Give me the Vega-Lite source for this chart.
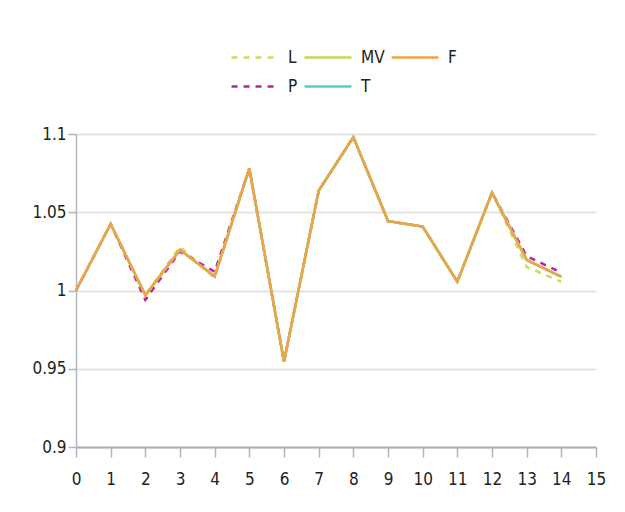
{
  "$schema": "https://vega.github.io/schema/vega-lite/v6.json",
  "width": 520,
  "height": 313,
  "autosize": "none",
  "padding": {"left": 76, "top": 134, "right": 29, "bottom": 65},
  "background": "white",
  "config": {
    "view": {"stroke": null},
    "font": "DejaVu Sans Condensed, Liberation Sans, sans-serif"
  },
  "data": {
    "values": [
      {"s": "L", "x": 0, "v": 1.0}, {"s": "L", "x": 1, "v": 1.0425}, {"s": "L", "x": 2, "v": 0.997}, {"s": "L", "x": 3, "v": 1.028}, {"s": "L", "x": 4, "v": 1.008}, {"s": "L", "x": 5, "v": 1.078}, {"s": "L", "x": 6, "v": 0.9545}, {"s": "L", "x": 7, "v": 1.0638}, {"s": "L", "x": 8, "v": 1.098}, {"s": "L", "x": 9, "v": 1.0444}, {"s": "L", "x": 10, "v": 1.0408}, {"s": "L", "x": 11, "v": 1.0056}, {"s": "L", "x": 12, "v": 1.0625}, {"s": "L", "x": 13, "v": 1.015}, {"s": "L", "x": 14, "v": 1.0056},
      {"s": "P", "x": 0, "v": 1.0}, {"s": "P", "x": 1, "v": 1.0425}, {"s": "P", "x": 2, "v": 0.994}, {"s": "P", "x": 3, "v": 1.025}, {"s": "P", "x": 4, "v": 1.012}, {"s": "P", "x": 5, "v": 1.078}, {"s": "P", "x": 6, "v": 0.9545}, {"s": "P", "x": 7, "v": 1.0638}, {"s": "P", "x": 8, "v": 1.098}, {"s": "P", "x": 9, "v": 1.0444}, {"s": "P", "x": 10, "v": 1.0408}, {"s": "P", "x": 11, "v": 1.0056}, {"s": "P", "x": 12, "v": 1.0625}, {"s": "P", "x": 13, "v": 1.022}, {"s": "P", "x": 14, "v": 1.0114},
      {"s": "MV", "x": 0, "v": 1.0}, {"s": "MV", "x": 1, "v": 1.0425}, {"s": "MV", "x": 2, "v": 0.997}, {"s": "MV", "x": 3, "v": 1.026}, {"s": "MV", "x": 4, "v": 1.009}, {"s": "MV", "x": 5, "v": 1.078}, {"s": "MV", "x": 6, "v": 0.9545}, {"s": "MV", "x": 7, "v": 1.0638}, {"s": "MV", "x": 8, "v": 1.098}, {"s": "MV", "x": 9, "v": 1.0444}, {"s": "MV", "x": 10, "v": 1.0408}, {"s": "MV", "x": 11, "v": 1.0056}, {"s": "MV", "x": 12, "v": 1.0625}, {"s": "MV", "x": 13, "v": 1.0195}, {"s": "MV", "x": 14, "v": 1.0088},
      {"s": "T", "x": 0, "v": 1.0}, {"s": "T", "x": 1, "v": 1.0425}, {"s": "T", "x": 2, "v": 0.997}, {"s": "T", "x": 3, "v": 1.026}, {"s": "T", "x": 4, "v": 1.009}, {"s": "T", "x": 5, "v": 1.078}, {"s": "T", "x": 6, "v": 0.9545}, {"s": "T", "x": 7, "v": 1.0638}, {"s": "T", "x": 8, "v": 1.098}, {"s": "T", "x": 9, "v": 1.0444}, {"s": "T", "x": 10, "v": 1.0408}, {"s": "T", "x": 11, "v": 1.0056}, {"s": "T", "x": 12, "v": 1.0625}, {"s": "T", "x": 13, "v": 1.0195}, {"s": "T", "x": 14, "v": 1.0088},
      {"s": "F", "x": 0, "v": 1.0}, {"s": "F", "x": 1, "v": 1.0425}, {"s": "F", "x": 2, "v": 0.997}, {"s": "F", "x": 3, "v": 1.026}, {"s": "F", "x": 4, "v": 1.009}, {"s": "F", "x": 5, "v": 1.078}, {"s": "F", "x": 6, "v": 0.9545}, {"s": "F", "x": 7, "v": 1.0638}, {"s": "F", "x": 8, "v": 1.098}, {"s": "F", "x": 9, "v": 1.0444}, {"s": "F", "x": 10, "v": 1.0408}, {"s": "F", "x": 11, "v": 1.0056}, {"s": "F", "x": 12, "v": 1.0625}, {"s": "F", "x": 13, "v": 1.0195}, {"s": "F", "x": 14, "v": 1.0088}
    ]
  },
  "mark": {"type": "line", "strokeWidth": 2.5},
  "encoding": {
    "x": {
      "field": "x", "type": "quantitative",
      "scale": {"domain": [0, 15], "nice": false},
      "axis": {
        "title": null, "values": [0,1,2,3,4,5,6,7,8,9,10,11,12,13,14,15],
        "grid": false, "domainColor": "#aab0b6", "domainWidth": 2,
        "tickColor": "#b0b6bb", "tickSize": 10, "tickWidth": 1.5,
        "labelFontSize": 17, "labelColor": "#222", "labelPadding": 14,
        "labelFlush": false
      }
    },
    "y": {
      "field": "v", "type": "quantitative",
      "scale": {"domain": [0.9, 1.1], "nice": false, "zero": false},
      "axis": {
        "title": null, "values": [0.9, 0.95, 1, 1.05, 1.1], "format": "~g",
        "grid": true, "gridColor": "#e3e3e3", "gridWidth": 2,
        "domainColor": "#b0b6bb", "domainWidth": 1.5,
        "tickColor": "#b0b6bb", "tickSize": 8, "tickWidth": 1.5,
        "labelFontSize": 17, "labelColor": "#222", "labelPadding": 2
      }
    },
    "color": {
      "field": "s", "type": "nominal",
      "scale": {"domain": ["L", "MV", "F", "P", "T"], "range": ["#cbdd5c", "#bfd855", "#f4a244", "#b8229c", "#4fd0c2"]},
      "legend": {
        "title": null, "orient": "none", "legendX": 154, "legendY": -88, "direction": "horizontal", "columns": 3,
        "symbolType": "stroke", "symbolSize": 2200, "symbolStrokeWidth": 2.5,
        "labelFontSize": 17, "labelColor": "#222", "labelOffset": 8,
        "columnPadding": 5, "rowPadding": 6, "clipHeight": 23
      }
    },
    "strokeDash": {
      "field": "s", "type": "nominal",
      "scale": {"domain": ["L", "MV", "F", "P", "T"], "range": [[6, 6], [1, 0], [1, 0], [6, 6], [1, 0]]},
      "legend": {
        "title": null, "orient": "none", "legendX": 154, "legendY": -88, "direction": "horizontal", "columns": 3,
        "symbolType": "stroke", "symbolSize": 2200, "symbolStrokeWidth": 2.5,
        "labelFontSize": 17, "labelColor": "#222", "labelOffset": 8,
        "columnPadding": 5, "rowPadding": 6, "clipHeight": 23
      }
    }
  }
}
